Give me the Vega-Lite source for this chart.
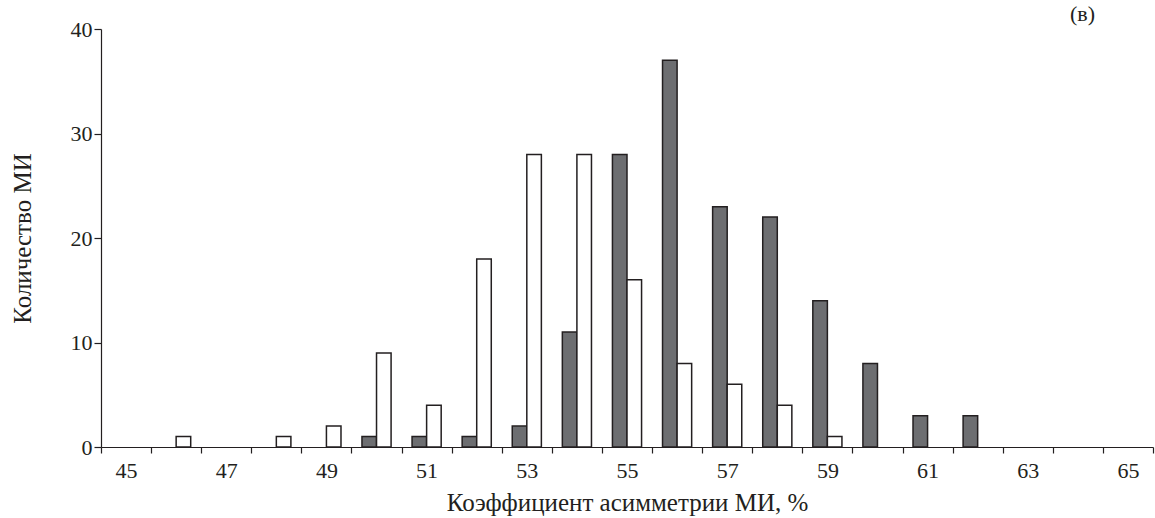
{
  "$schema": "https://vega.github.io/schema/vega-lite/v6.json",
  "width": 1052,
  "height": 418,
  "autosize": {"type": "none"},
  "padding": {"left": 101, "top": 29, "right": 2, "bottom": 71},
  "background": "white",
  "title": {"text": "(в)", "anchor": "end", "frame": "group", "dx": -58, "offset": -8, "fontSize": 22, "font": "Liberation Serif", "fontWeight": "normal", "color": "#231f20"},
  "config": {"view": {"stroke": null}, "font": "Liberation Serif"},
  "data": {"values": [
    {"bin": 46, "group": "B", "count": 1},
    {"bin": 48, "group": "B", "count": 1},
    {"bin": 49, "group": "B", "count": 2},
    {"bin": 50, "group": "A", "count": 1},
    {"bin": 50, "group": "B", "count": 9},
    {"bin": 51, "group": "A", "count": 1},
    {"bin": 51, "group": "B", "count": 4},
    {"bin": 52, "group": "A", "count": 1},
    {"bin": 52, "group": "B", "count": 18},
    {"bin": 53, "group": "A", "count": 2},
    {"bin": 53, "group": "B", "count": 28},
    {"bin": 54, "group": "A", "count": 11},
    {"bin": 54, "group": "B", "count": 28},
    {"bin": 55, "group": "A", "count": 28},
    {"bin": 55, "group": "B", "count": 16},
    {"bin": 56, "group": "A", "count": 37},
    {"bin": 56, "group": "B", "count": 8},
    {"bin": 57, "group": "A", "count": 23},
    {"bin": 57, "group": "B", "count": 6},
    {"bin": 58, "group": "A", "count": 22},
    {"bin": 58, "group": "B", "count": 4},
    {"bin": 59, "group": "A", "count": 14},
    {"bin": 59, "group": "B", "count": 1},
    {"bin": 60, "group": "A", "count": 8},
    {"bin": 61, "group": "A", "count": 3},
    {"bin": 62, "group": "A", "count": 3}
  ]},
  "mark": {"type": "bar", "stroke": "#231f20", "strokeWidth": 1.5},
  "encoding": {
    "x": {
      "field": "bin", "type": "ordinal",
      "scale": {"domain": [45,46,47,48,49,50,51,52,53,54,55,56,57,58,59,60,61,62,63,64,65], "paddingInner": 0, "paddingOuter": 0},
      "axis": {
        "title": "Коэффициент асимметрии МИ, %",
        "titleFontSize": 25, "titleFontWeight": "normal", "titleColor": "#231f20", "titlePadding": 9,
        "labelAngle": 0, "labelFontSize": 22, "labelColor": "#231f20", "labelPadding": 7,
        "labelExpr": "datum.value % 2 == 1 ? datum.label : ''",
        "tickBand": "extent", "tickSize": 6, "tickColor": "#231f20", "domainColor": "#231f20", "domainWidth": 1.2, "tickWidth": 1.2,
        "grid": false
      }
    },
    "xOffset": {"field": "group", "type": "nominal", "scale": {"domain": ["A", "B"], "paddingInner": 0, "paddingOuter": 0.72}},
    "y": {
      "field": "count", "type": "quantitative",
      "scale": {"domain": [0, 40], "nice": false},
      "axis": {
        "title": "Количество МИ",
        "titleFontSize": 25, "titleFontWeight": "normal", "titleColor": "#231f20", "titlePadding": 35,
        "values": [0, 10, 20, 30, 40],
        "labelFontSize": 22, "labelColor": "#231f20", "labelPadding": 2,
        "tickSize": 7, "tickColor": "#231f20", "domainColor": "#231f20", "domainWidth": 1.2, "tickWidth": 1.2,
        "grid": false
      }
    },
    "color": {"field": "group", "type": "nominal", "scale": {"domain": ["A", "B"], "range": ["#6d6e71", "#ffffff"]}, "legend": null}
  }
}
